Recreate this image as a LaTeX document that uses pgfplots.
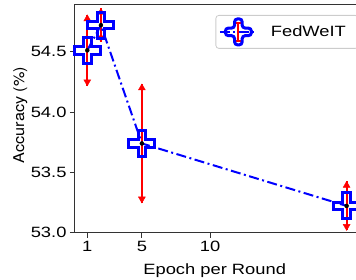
\documentclass[border=0pt]{standalone}
\usepackage{pgfplots}
\pgfplotsset{compat=1.18}
\usepackage{fontspec}
\setmainfont{Liberation Sans}[FakeStretch=1.23]
\newfontfamily\ylabfont{TeX Gyre Heros}[FakeStretch=1.09]
\newcommand\fs{\fontsize{14.9}{17.9}\selectfont}
\pgfdeclareplotmark{fatplus}{%
 \pgfpathmoveto{\pgfqpoint{-3.8pt}{-13pt}}%
 \pgfpathlineto{\pgfqpoint{3.8pt}{-13pt}}%
 \pgfpathlineto{\pgfqpoint{3.8pt}{-3.8pt}}%
 \pgfpathlineto{\pgfqpoint{13pt}{-3.8pt}}%
 \pgfpathlineto{\pgfqpoint{13pt}{3.8pt}}%
 \pgfpathlineto{\pgfqpoint{3.8pt}{3.8pt}}%
 \pgfpathlineto{\pgfqpoint{3.8pt}{13pt}}%
 \pgfpathlineto{\pgfqpoint{-3.8pt}{13pt}}%
 \pgfpathlineto{\pgfqpoint{-3.8pt}{3.8pt}}%
 \pgfpathlineto{\pgfqpoint{-13pt}{3.8pt}}%
 \pgfpathlineto{\pgfqpoint{-13pt}{-3.8pt}}%
 \pgfpathlineto{\pgfqpoint{-3.8pt}{-3.8pt}}%
 \pgfpathclose
 \pgfusepathqstroke
}
\pgfplotstableread{
x y e
1 54.512 0.294
2 54.721 0.138
5 53.740 0.493
20 53.222 0.203
}\fedweit
\begin{document}
\begin{tikzpicture}
\begin{axis}[
 at={(0pt,0pt)}, anchor=south west,
 scale only axis, width=288pt, height=227.7pt,
 xmin=0.1, xmax=21.2, ymin=53.0, ymax=54.888,
 xtick={1,5,10}, ytick={53,53.5,54,54.5},
 tick align=outside, xtick pos=bottom, ytick pos=left,
 major tick length=5pt,
 every tick/.style={black!80, line width=1pt},
 axis line style={black!80, line width=1pt},
 /pgf/number format/assume math mode=true,
 tick label style={font=\fs},
 yticklabel style={/pgf/number format/.cd, fixed, fixed zerofill, precision=1},
 xlabel={Epoch per Round}, ylabel={Accuracy (\%)},
 xlabel style={font=\fs, at={(axis description cs:0.485,-0.1814)}, anchor=base},
 ylabel style={font={\fontsize{14.9}{17.9}\ylabfont}, at={(axis description cs:-0.177,0.517)}, anchor=base},
 legend style={at={(0.985,0.9561)}, anchor=north east, draw=black!20, solid, line width=0.8pt,
   rounded corners=3pt, fill=white, font=\fs, inner xsep=0pt, inner ysep=2pt,
   nodes={inner sep=0pt}},
]
\addplot[only marks, mark=none, forget plot,
  error bars/.cd, y dir=both, y explicit, error mark=none,
  error bar style={red, line width=2pt, solid}]
  table[x=x, y=y, y error=e] {\fedweit};
\addplot[only marks, mark=triangle*, mark size=4pt, red, forget plot,
  mark options={draw=red, fill=red}]
  coordinates {(1,54.773) (2,54.826) (5,54.200) (20,53.392)};
\addplot[only marks, mark=triangle*, mark size=4pt, red, forget plot,
  mark options={draw=red, fill=red, rotate=180}]
  coordinates {(1,54.251) (2,54.616) (5,53.280) (20,53.052)};
\addplot[blue, line width=2pt, dash pattern=on 10pt off 3.5pt on 2pt off 3.5pt,
  mark=fatplus, mark options={solid, line width=3pt, draw=blue, fill=none},
  legend image code/.code={
    \node[draw=none, fill=none, inner sep=0pt, minimum width=55pt, minimum height=29pt, anchor=west] at (0pt,0pt) {};
    \draw[blue, line width=2pt, dash pattern=on 10pt off 3.5pt on 2pt off 3.5pt] (5pt,0pt) -- (42pt,0pt);
    \draw[red, line width=2pt, solid] (23.5pt,-9pt) -- (23.5pt,9pt);
    \draw[red, line width=1.5pt, solid] (20.5pt,-9pt) -- (26.5pt,-9pt) (20.5pt,9pt) -- (26.5pt,9pt);
    \draw[blue, line width=3pt, solid, shift={(23.5pt,0pt)}]
      (-3.8pt,-13pt) -- (3.8pt,-13pt) -- (3.8pt,-3.8pt) -- (13pt,-3.8pt) -- (13pt,3.8pt)
      -- (3.8pt,3.8pt) -- (3.8pt,13pt) -- (-3.8pt,13pt) -- (-3.8pt,3.8pt) -- (-13pt,3.8pt)
      -- (-13pt,-3.8pt) -- (-3.8pt,-3.8pt) -- cycle;
  }]
  table[x=x, y=y] {\fedweit};
\addlegendentry{\makebox[87.4pt][l]{FedWeIT}}
\end{axis}
\pgfresetboundingbox
\useasboundingbox (-75pt,-47.3pt) rectangle (281pt,232.7pt);
\end{tikzpicture}
\end{document}
